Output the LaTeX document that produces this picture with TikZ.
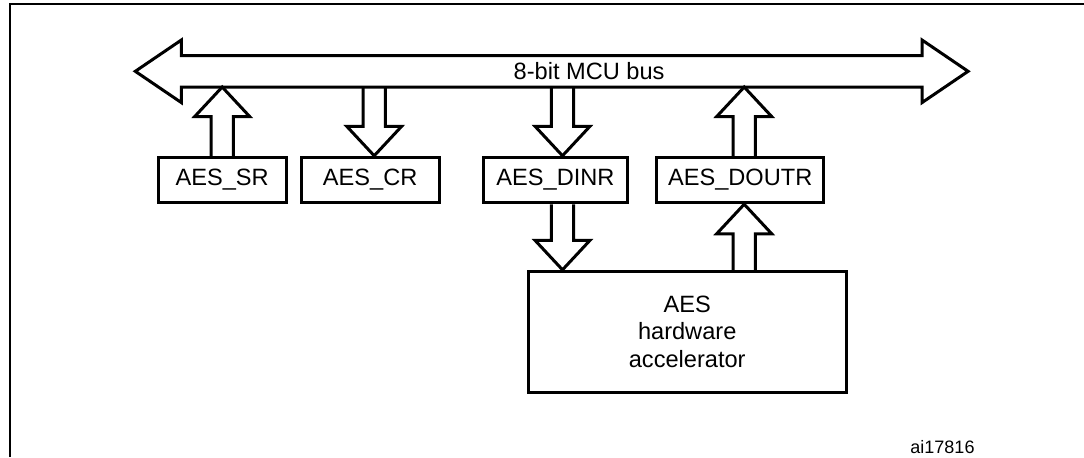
\documentclass[tikz,border=0pt]{standalone}
\usepackage{fontspec}
\setmainfont{Liberation Sans}
\usetikzlibrary{calc}

\begin{document}
\begin{tikzpicture}[
    x=0.5pt, y=-0.5pt,
    reg/.style={
        draw, line width=1.5pt,
        minimum height=22.75pt, inner sep=0pt,
        font=\fontsize{11.8}{13.7}\selectfont
    },
    accel/.style={
        draw, line width=1.5pt,
        minimum width=158.85pt, minimum height=60.5pt,
        align=center, font=\fontsize{11.8}{13.7}\selectfont
    },
    busline/.style={line width=1.5pt, line join=miter},
    fat/.style={
        line width=1.5pt, line join=miter,
        to path={
            let \p1=(\tikztostart), \p2=(\tikztotarget),
                \p3=($(\tikztotarget)!14.75pt!(\tikztostart)$) in
            (\x1-5.6pt,\y1) -- (\x1-5.6pt,\y3) -- (\x1-13.75pt,\y3)
            -- (\x2,\y2)
            -- (\x1+13.75pt,\y3) -- (\x1+5.6pt,\y3) -- (\x1+5.6pt,\y1)
        }
    }
]
\useasboundingbox (0,0) rectangle (1084,457);

% Cadre
\draw[line width=1pt] (10,457) |- (1084,4.2);

% Bus MCU 8 bits
\node[minimum width=370pt, minimum height=15.35pt, inner sep=0pt] (bus) at (551.7,71.3) {};
\draw[busline] (bus.north west) -- (bus.north east) -- ++(0,7.75pt)
    -- ([xshift=23pt]bus.east) -- ([yshift=-7.75pt]bus.south east)
    -- (bus.south east) -- (bus.south west) -- ++(0,-7.75pt)
    -- ([xshift=-23pt]bus.west) -- ([yshift=7.75pt]bus.north west) -- cycle;
\node[font=\fontsize{11.8}{13.7}\selectfont] (buslbl) at ([xshift=18.7pt]bus.center) {8-bit MCU bus};

% Registres
\node[reg, minimum width=63.85pt] (sr)    at (222.2,180) {AES\_SR};
\node[reg, minimum width=68.85pt] (cr)    at (370.2,180) {AES\_CR};
\node[reg, minimum width=72.2pt]  (dinr)  at (555.5,180) {AES\_DINR};
\node[reg, minimum width=83.5pt]  (doutr) at (740.2,180) {AES\_DOUTR};

% Accelerateur
\node[accel] (acc) at (687.2,331.8) {AES\\hardware\\accelerator};

% Points de passage des fleches
\coordinate (crx)    at ([xshift=2pt]cr.north);
\coordinate (dinrx)  at ([xshift=3.5pt]dinr.north);
\coordinate (doutrx) at ([xshift=2pt]doutr.north);

% Fleches
\draw[fat] (sr.north) to (sr.north |- bus.south);
\draw[fat] (crx |- bus.south) to (crx);
\draw[fat] (dinrx |- bus.south) to (dinrx);
\draw[fat] (dinrx |- dinr.south) to (dinrx |- acc.north);
\draw[fat] (doutrx |- acc.north) to (doutrx |- doutr.south);
\draw[fat] (doutrx) to (doutrx |- bus.south);

% Reference
\node[font=\fontsize{9}{11}\selectfont] (ref) at (942.5,446.7) {ai17816};

\end{tikzpicture}
\end{document}
